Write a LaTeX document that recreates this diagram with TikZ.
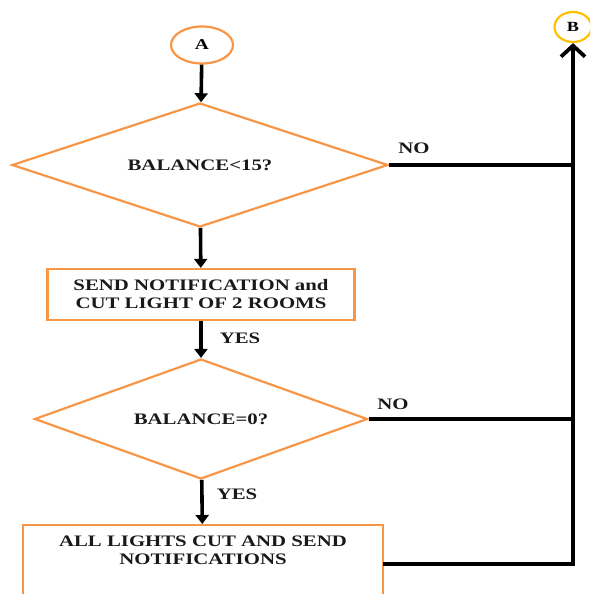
\documentclass[tikz,border=0pt]{standalone}
\usepackage{fontspec}
\newfontfamily\chartfont{Liberation Serif}[FakeStretch=1.3]
\usepackage{tikz}
\usetikzlibrary{arrows.meta, positioning, shapes.geometric}
\definecolor{boxorange}{RGB}{247,150,70}
\definecolor{termgold}{RGB}{255,192,0}

\tikzset{
    chart/.style={font=\chartfont\bfseries\fontsize{16}{18}\selectfont, text=black!90},
    termnode/.style={ellipse, draw=boxorange, line width=2.2pt, inner sep=0pt},
    decision/.style={diamond, aspect=3, draw=boxorange, line width=2.2pt, inner sep=0pt, chart},
    procbox/.style={rectangle, draw=boxorange, line width=2.2pt, inner sep=0pt, align=center, chart},
    flow/.style={line width=3.6pt, -{Triangle[length=9pt, width=13pt]}},
    branch/.style={line width=3.8pt},
    answer/.style={chart}
}

\begin{document}
\begin{tikzpicture}[x=1pt, y=-1pt]
        % Cadre
        \useasboundingbox (0,0) rectangle (590,594);
        \clip (0,0) rectangle (590,594);

        % --- Terminaux ---
        \node[termnode, minimum width=62pt, minimum height=37pt,
              font=\chartfont\bfseries\fontsize{15}{16}\selectfont] (A) at (202,45) {A};
        \node[termnode, draw=termgold, minimum width=37pt, minimum height=30pt,
              font=\chartfont\bfseries\fontsize{14}{15}\selectfont] (B) at (573,27) {B};

        % --- Décisions et actions ---
        \node[decision, minimum width=376pt, minimum height=124pt] (low) at (200,165) {BALANCE<15?};
        \node[procbox, minimum width=307pt, minimum height=51pt] (warn) at (201,294.5)
            {SEND NOTIFICATION and\\CUT LIGHT OF 2 ROOMS};
        \node[decision, minimum width=333pt, minimum height=120pt] (empty) at (201,419) {BALANCE=0?};
        \node[procbox, minimum width=360pt, minimum height=110pt, anchor=north] (cut) at (203,524) {};
        \node[procbox, draw=none, below=11pt of cut.north] (cuttext)
            {ALL LIGHTS CUT AND SEND\\NOTIFICATIONS};
        \coordinate (cutout) at (383,564);

        % --- Flèches principales ---
        \draw[flow] (A) -- (low);
        \draw[flow] (low) -- (warn);
        \draw[flow] (warn) -- (empty);
        \draw[flow] (empty) -- (cut);

        % --- Retour vers B ---
        \draw[branch, -{Straight Barb[length=11pt, width=24pt]}] (cutout) -| (B.south);
        \draw[branch] (low.east) -- (low.east -| B.south);
        \draw[branch] (empty.east) -- (empty.east -| B.south);

        % --- Étiquettes ---
        \node[answer] (no1) at (414,148) {NO};
        \node[answer] (no2) at (393,404) {NO};
        \node[answer] (yes1) at (240,338) {YES};
        \node[answer] (yes2) at (237,494) {YES};
    \end{tikzpicture}
\end{document}
